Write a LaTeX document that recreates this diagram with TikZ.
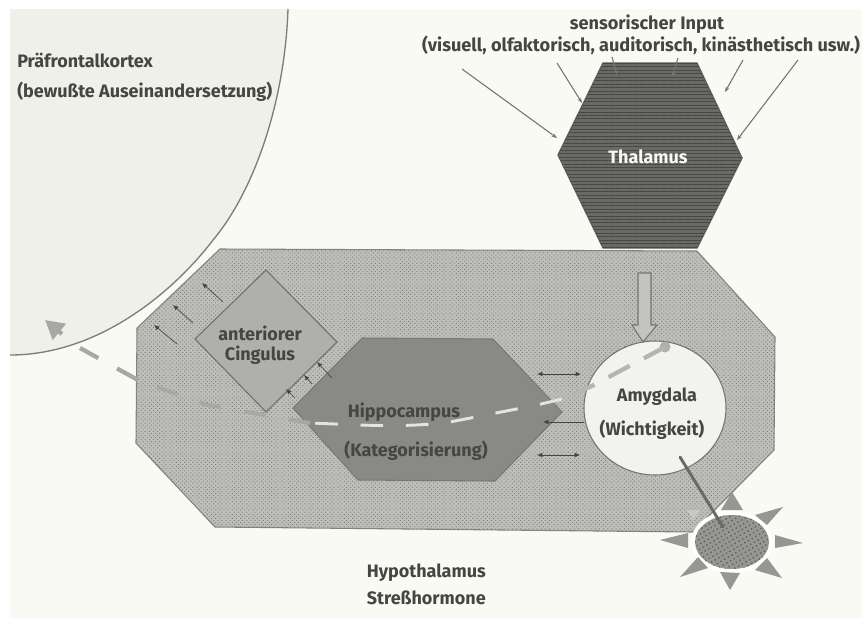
\documentclass[tikz,border=0pt]{standalone}
\usepackage{fontspec}
\setmainfont{Fira Sans}
\usetikzlibrary{arrows.meta,patterns.meta}
\definecolor{paper}{HTML}{FAFAF5}
\definecolor{ink}{HTML}{454541}
\definecolor{edge}{HTML}{747470}
\tikzset{
  lbl/.style={font=\bfseries\fontsize{13.5}{15}\selectfont,text=ink,inner sep=0pt},
  lblwide/.style={font=\bfseries\fontsize{13.6}{15}\selectfont,text=ink,inner sep=0pt},
  input/.style={draw=edge,line width=.8pt,-{Stealth[length=4pt,width=3pt]}},
  thin arrow/.style={draw=ink,line width=.5pt,-{Latex[length=4pt,width=3.5pt]}},
  both arrow/.style={draw=ink,line width=.5pt,{Latex[length=4pt,width=3.5pt]}-{Latex[length=4pt,width=3.5pt]}},
  rayshape/.style={fill=black!40!paper,draw=none},
}
\begin{document}
\begin{tikzpicture}[x=0.75pt,y=-0.75pt]
\useasboundingbox (0,0) rectangle (862,618);
\fill[white] (0,0) rectangle (862,618);
\fill[paper] (10,9) rectangle (862,618);

% Prefrontal cortex
\path[fill=black!4!paper] (10,9) -- (288,9) .. controls (285,100) and (255,190) .. (213,240) .. controls (175,290) and (100,355) .. (10,355) -- cycle;
\draw[draw=black!50!paper,line width=1pt] (288,9) .. controls (285,100) and (255,190) .. (213,240) .. controls (175,290) and (100,355) .. (10,355);
\node[lbl,anchor=west] (pfc1) at (17,60) {Präfrontalkortex};
\node[lbl,anchor=west] (pfc2) at (17,92) {(bewußte Auseinandersetzung)};

% Hypothalamus octagon
\path[fill=black!24!paper] (220,249) -- (697,251) -- (775,337) -- (774,450) -- (693,532) -- (215,527) -- (136,443) -- (137,328) -- cycle;
\path[pattern={Dots[radius=.5pt,distance=2.2pt,angle=45]},pattern color=black!50!paper] (220,249) -- (697,251) -- (775,337) -- (774,450) -- (693,532) -- (215,527) -- (136,443) -- (137,328) -- cycle;
\draw[draw=black!48!paper,line width=.8pt] (220,249) -- (697,251) -- (775,337) -- (774,450) -- (693,532) -- (215,527) -- (136,443) -- (137,328) -- cycle;

% Thalamus
\path[fill=black!58!paper,draw=black!62!paper,line width=1pt] (558,155) -- (603,63) -- (697,63) -- (742,158) -- (697,248) -- (603,248) -- cycle;
\path[pattern={Lines[angle=0,distance=2.6pt,line width=.45pt]},pattern color=black!72!paper] (558,155) -- (603,63) -- (697,63) -- (742,158) -- (697,248) -- (603,248) -- cycle;
\node[lbl,text=paper] (thal) at (648,157) {Thalamus};

% Inputs
\coordinate (i1a) at (462,69); \coordinate (i1b) at (557,138);
\coordinate (i2a) at (557,63); \coordinate (i2b) at (582,103);
\coordinate (i3a) at (612,57); \coordinate (i3b) at (617,75);
\coordinate (i4a) at (678,58); \coordinate (i4b) at (672,77);
\coordinate (i5a) at (743,60); \coordinate (i5b) at (725,92);
\coordinate (i6a) at (798,60); \coordinate (i6b) at (737,140);
\foreach \n in {1,...,6} \draw[input] (i\n a) -- (i\n b);
\node[lblwide] (in1) at (647,24) {sensorischer Input};
\node[lblwide] (in2) at (641,45) {(visuell, olfaktorisch, auditorisch, kinästhetisch usw.)};

% Cingulus
\path[fill=black!30!paper,draw=edge,line width=.9pt] (266,270) -- (337,342) -- (266,412) -- (195,339) -- cycle;
\node[lbl] (cing1) at (260,333) {anteriorer};
\node[lbl] (cing2) at (260,355) {Cingulus};

% Hippocampus
\path[fill=black!45!paper,draw=black!52!paper,line width=.8pt] (293,408) -- (362,338) -- (493,339) -- (562,412) -- (495,481) -- (358,480) -- cycle;
\node[lbl] (hip1) at (404,412) {Hippocampus};
\node[lbl] (hip2) at (416,451) {(Kategorisierung)};

% Amygdala
\path[fill=black!3!paper,draw=edge,line width=.8pt] (655,408) ellipse [x radius=71,y radius=67];
\node[lbl] (amy1) at (657,397) {Amygdala};
\node[lbl] (amy2) at (652,430) {(Wichtigkeit)};

% Block arrow
\path[fill=black!22!paper,draw=edge,line width=.8pt] (638,273) -- (651,273) -- (651,325) -- (657,325) -- (643,342) -- (632,325) -- (638,325) -- cycle;

% Small arrows
\coordinate (c1a) at (223,302); \coordinate (c1b) at (202,283);
\coordinate (c2a) at (193,323); \coordinate (c2b) at (173,305);
\coordinate (c3a) at (177,344); \coordinate (c3b) at (154,325);
\foreach \n in {1,2,3} \draw[thin arrow] (c\n a) -- (c\n b);
\coordinate (d1a) at (295,398); \coordinate (d1b) at (286,389);
\coordinate (d2a) at (312,384); \coordinate (d2b) at (304,375);
\coordinate (d3a) at (332,378); \coordinate (d3b) at (317,362);
\foreach \n in {1,2,3} \draw[thin arrow] (d\n a) -- (d\n b);
\coordinate (e1a) at (537,374); \coordinate (e1b) at (581,374);
\coordinate (e3a) at (537,455); \coordinate (e3b) at (580,455);
\coordinate (e2a) at (584,422); \coordinate (e2b) at (543,422);
\draw[both arrow] (e1a) -- (e1b);
\draw[both arrow] (e3a) -- (e3b);
\draw[thin arrow] (e2a) -- (e2b);

% Long dashed path
\coordinate (p0) at (665,347);
\coordinate (p1) at (590,387);
\coordinate (p2) at (562,399);
\coordinate (p3) at (537,405);
\coordinate (p4) at (450,422);
\coordinate (p5) at (360,425);
\coordinate (p6) at (310,423);
\coordinate (p7) at (207,405);
\coordinate (p8) at (138,380);
\coordinate (p9) at (80,348);
\coordinate (p10) at (45,320);
\fill[black!30!paper] (p0) circle (5.5);
\draw[draw=black!28!paper,line width=3.2,dash pattern=on 18 off 12] (p0) -- (p1);
\draw[draw=black!27!paper,line width=3,dash pattern=on 14 off 14] (p1) -- (p2);
\draw[draw=black!9!paper,line width=2.2,dash pattern=on 17 off 17] (p2) -- (p3) -- (p4) .. controls (420,426) and (390,426) .. (p5) -- (p6);
\draw[draw=black!33!paper,line width=3,dash pattern=on 16 off 18] (p6) -- (p7) -- (p8);
\draw[draw=black!33!paper,line width=3.2,dash pattern=on 18 off 16] (p8) -- (p9);
\draw[draw=black!33!paper,line width=3.2,-{Triangle[length=14,width=15]}] (62,334) -- (p10);

% Stress: sun
\coordinate (a0) at (680,457);
\coordinate (a1) at (723,527);
\path[fill=white] (732,542) ellipse [x radius=41,y radius=31];
\foreach \t/\u/\v in {{732,492}/{721,510}/{743,510},{783,507}/{755,515}/{767,525},{803,543}/{775,535}/{775,548},{782,578}/{767,558}/{755,570},{730,590}/{720,572}/{740,573},{680,577}/{698,557}/{708,568},{660,540}/{688,533}/{688,548}}
  \path[rayshape] (\t) -- (\u) -- (\v) -- cycle;
\path[fill=black!20!paper] (687,510) -- (700,510) -- (693,520) -- cycle;
\path[fill=black!40!paper] (732,542) ellipse [x radius=37,y radius=27];
\path[pattern={Dots[radius=.75pt,distance=3.2pt,angle=30]},pattern color=black!62!paper] (732,542) ellipse [x radius=37,y radius=27];
\draw[draw=black!58!paper,line width=2.2pt,line cap=round] (a0) -- (a1);

\node[lbl,anchor=east] (hyp1) at (486,573) {Hypothalamus};
\node[lbl,anchor=east] (hyp2) at (486,598) {Streßhormone};
\end{tikzpicture}
\end{document}
